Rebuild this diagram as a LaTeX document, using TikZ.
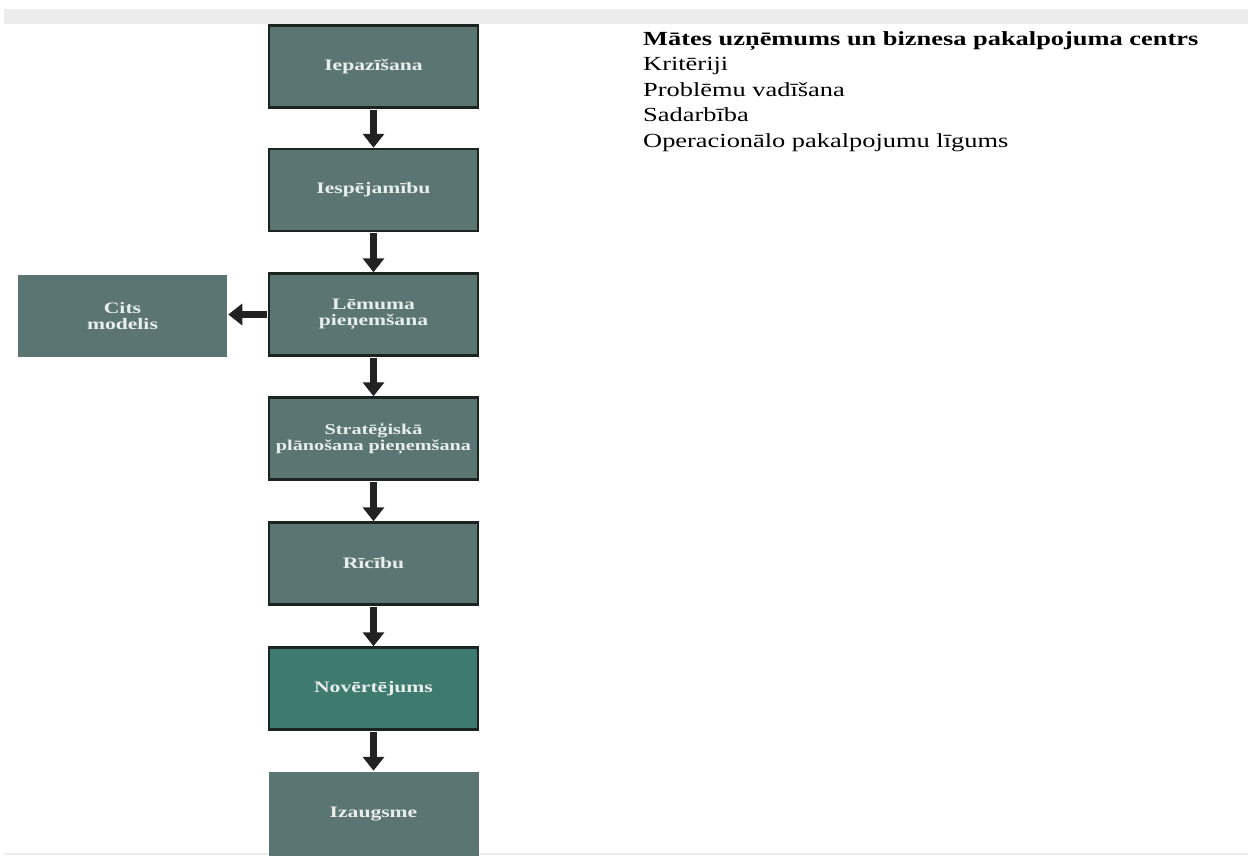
\documentclass[tikz,border=0pt]{standalone}
\usepackage{fontspec}
\setmainfont{Liberation Serif}
\newfontfamily\boxfont[FakeStretch=1.35]{Liberation Serif}
\newfontfamily\listfont[FakeStretch=1.32]{Liberation Serif}
\usetikzlibrary{arrows.meta}
\definecolor{stepfill}{HTML}{5B7573}
\definecolor{evalfill}{HTML}{3F7A70}
\definecolor{edgedark}{HTML}{1C2422}
\definecolor{arrowdark}{HTML}{222222}
\definecolor{labelwhite}{HTML}{E8EEEC}
\definecolor{bandgrey}{HTML}{ECECEC}
\tikzset{
  stepbox/.style={draw=edgedark, line width=2.5pt, fill=stepfill,
    minimum width=209pt, minimum height=82pt, inner sep=0pt,
    align=center, text=labelwhite,
    font=\boxfont\bfseries\fontsize{16}{16}\selectfont},
  plainbox/.style={stepbox, draw=none, minimum width=210pt},
  flow/.style={draw=arrowdark, line width=7.5pt,
    -{Triangle[width=21pt,length=14pt]}, shorten <=1pt},
  sidetext/.style={anchor=base west, inner sep=0pt,
    font=\listfont\fontsize{20}{25}\selectfont}
}
\begin{document}
\begin{tikzpicture}[x=1pt,y=-1pt]
  % page and grey rules
  \fill[white] (0,0) rectangle (1248,855);
  \useasboundingbox (0,0) rectangle (1248,855);
  \fill[bandgrey] (4,9) rectangle (1248,24);
  \fill[bandgrey] (4,852.5) rectangle (1248,855);

  % main column of steps
  \node[stepbox] (s1) at (373.5,66.5) {Iepazīšana};
  \node[stepbox] (s2) at (373.5,190) {Iespējamību};
  \node[stepbox] (s3) at (373.5,314.5) {Lēmuma\\pieņemšana};
  \node[stepbox, font=\boxfont\bfseries\fontsize{15}{16}\selectfont] (s4)
    at (373.5,438.5) {Stratēģiskā\\plānošana pieņemšana};
  \node[stepbox] (s5) at (373.5,563.5) {Rīcību};
  \node[stepbox, fill=evalfill] (s6) at (373.5,688.5) {Novērtējums};
  \node[plainbox, minimum height=84pt] (s7) at (373.5,814) {Izaugsme};

  % side branch
  \node[plainbox, minimum width=209pt] (alt) at (122.5,316) {Cits\\modelis};

  % connectors
  \draw[flow] (s1.south) -- (s2.north);
  \draw[flow] (s2.south) -- (s3.north);
  \draw[flow] (s3.south) -- (s4.north);
  \draw[flow] (s4.south) -- (s5.north);
  \draw[flow] (s5.south) -- (s6.north);
  \draw[flow] (s6.south) -- (s7.north);
  \draw[flow] (s3.west) -- (alt.east |- s3.west);

  % list on the right
  \node[sidetext, font=\listfont\bfseries\fontsize{20}{25}\selectfont] (t0) at (643,45)
    {Mātes uzņēmums un biznesa pakalpojuma centrs};
  \node[sidetext] (t1) at (643,70.5) {Kritēriji};
  \node[sidetext] (t2) at (643,96) {Problēmu vadīšana};
  \node[sidetext] (t3) at (643,121.5) {Sadarbība};
  \node[sidetext] (t4) at (643,147) {Operacionālo pakalpojumu līgums};
\end{tikzpicture}
\end{document}
